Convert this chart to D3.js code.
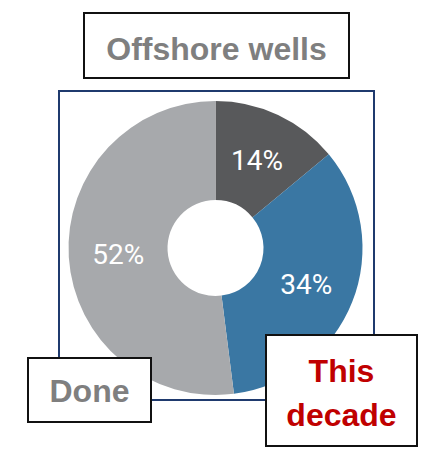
<!DOCTYPE html>
<html><head><meta charset="utf-8">
<script src="https://cdn.jsdelivr.net/npm/d3@7"></script>
<style>body{margin:0;background:#fff}svg{display:block}</style>
</head><body>
<svg id="c" width="424" height="454"></svg>
<script>
const categories = ["Remaining", "This decade", "Done"];
const values = [14, 34, 52];
const labels = ["14%", "34%", "52%"];
const colors = ["#58595b", "#3a77a3", "#a7a9ac"];
const title = "Offshore wells";
const doneLabel = ["Done"];
const decadeLabel = ["This", "decade"];

const svg = d3.select("#c");
// chart frame
svg.append("rect").attr("x", 59).attr("y", 91).attr("width", 315).attr("height", 309)
  .attr("fill", "#fff").attr("stroke", "#1f3a6e").attr("stroke-width", 2);

const cx = 215.5, cy = 248, rOut = 147, rIn = 48;
const pie = d3.pie().sort(null).value(d => d);
const arcs = pie(values);
const arc = d3.arc().innerRadius(rIn).outerRadius(rOut);
const g = svg.append("g").attr("transform", `translate(${cx},${cy})`);
g.selectAll("path").data(arcs).join("path")
  .attr("d", arc).attr("fill", (d, i) => colors[i]);
g.selectAll("text").data(arcs).join("text")
  .attr("transform", d => `translate(${arc.centroid(d)})`)
  .attr("text-anchor", "middle").attr("dy", "0.36em")
  .attr("fill", "#fff").attr("font-family", "Roboto").attr("font-weight", 400)
  .attr("font-size", 28).text((d, i) => labels[i]);

function box(x, y, w, h, lines, color, baselines, cxText) {
  svg.append("rect").attr("x", x).attr("y", y).attr("width", w).attr("height", h)
    .attr("fill", "#fff").attr("stroke", "#111").attr("stroke-width", 2);
  lines.forEach((t, i) => {
    svg.append("text").attr("x", cxText).attr("y", baselines[i])
      .attr("text-anchor", "middle").attr("fill", color)
      .attr("font-family", "Liberation Sans").attr("font-weight", "bold")
      .attr("font-size", 32).text(t);
  });
}
box(84, 13, 265, 65, [title], "#7f7f7f", [60], 216.5);
box(28, 358, 123, 64, doneLabel, "#7f7f7f", [402], 89.5);
box(266, 335, 151, 111, decadeLabel, "#c00000", [382, 426], 341.5);
</script>
</body></html>
